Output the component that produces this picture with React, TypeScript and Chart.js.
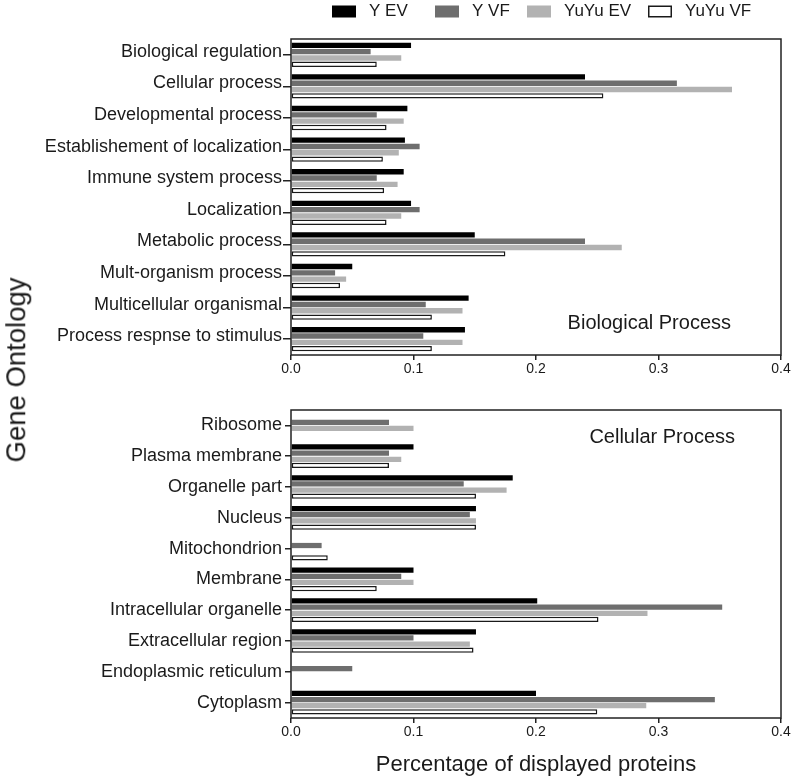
import React, { useEffect, useRef } from "react";
import { Chart, registerables } from "chart.js";

Chart.register(...registerables);

const FONT = '"Liberation Sans", Arial, Helvetica, sans-serif';

// ---- Data ----
const seriesNames = ["Y EV", "Y VF", "YuYu EV", "YuYu VF"];
const xTickValues = [0, 0.1, 0.2, 0.3, 0.4];

const bpCategories = [
  "Biological regulation",
  "Cellular process",
  "Developmental process",
  "Establishement of localization",
  "Immune system process",
  "Localization",
  "Metabolic process",
  "Mult-organism process",
  "Multicellular organismal",
  "Process respnse to stimulus",
];
const bpYEV = [0.098, 0.24, 0.095, 0.093, 0.092, 0.098, 0.15, 0.05, 0.145, 0.142];
const bpYVF = [0.065, 0.315, 0.07, 0.105, 0.07, 0.105, 0.24, 0.036, 0.11, 0.108];
const bpYuYuEV = [0.09, 0.36, 0.092, 0.088, 0.087, 0.09, 0.27, 0.045, 0.14, 0.14];
const bpYuYuVF = [0.07, 0.255, 0.078, 0.075, 0.076, 0.078, 0.175, 0.04, 0.115, 0.115];

const ccCategories = [
  "Ribosome",
  "Plasma membrane",
  "Organelle part",
  "Nucleus",
  "Mitochondrion",
  "Membrane",
  "Intracellular organelle",
  "Extracellular region",
  "Endoplasmic reticulum",
  "Cytoplasm",
];
const ccYEV = [null, 0.1, 0.181, 0.151, null, 0.1, 0.201, 0.151, null, 0.2];
const ccYVF = [0.08, 0.08, 0.141, 0.146, 0.025, 0.09, 0.352, 0.1, 0.05, 0.346];
const ccYuYuEV = [0.1, 0.09, 0.176, 0.151, null, 0.1, 0.291, 0.146, null, 0.29];
const ccYuYuVF = [null, 0.08, 0.151, 0.151, 0.03, 0.07, 0.251, 0.149, null, 0.25];

// ---- Styles ----
const seriesFill = ["#000000", "#6e6e6e", "#b2b2b2", "#ffffff"];
const seriesBorder = ["#000000", "#646464", "#a8a8a8", "#1a1a1a"];
const seriesBorderWidth = [0, 0, 0, 1.5];
const legendItemX = [332, 435, 527, 648];

const framePlugin = {
  id: "framePanel",
  afterDraw(chart: any, _args: any, opts: any) {
    const { ctx, chartArea } = chart;
    ctx.save();
    ctx.strokeStyle = "#222";
    ctx.lineWidth = 1.5;
    ctx.strokeRect(chartArea.left, chartArea.top, chartArea.right - chartArea.left, chartArea.bottom - chartArea.top);
    if (opts && opts.text) {
      ctx.fillStyle = "#1a1a1a";
      ctx.font = `20px ${FONT}`;
      ctx.textAlign = "right";
      ctx.textBaseline = "middle";
      const y = opts.fromTop ? chartArea.top + opts.dy : chartArea.bottom - opts.dy;
      ctx.fillText(opts.text, chartArea.right - opts.dxRight, y);
    }
    if (opts && opts.legend) {
      const cy = 11.5;
      ctx.font = `17px ${FONT}`;
      ctx.textAlign = "left";
      ctx.textBaseline = "middle";
      chart.data.datasets.forEach((ds: any, i: number) => {
        const x = legendItemX[i];
        ctx.fillStyle = seriesFill[i];
        ctx.fillRect(x, cy - 6, 24, 12);
        if (i === 3) {
          ctx.strokeStyle = "#1a1a1a";
          ctx.lineWidth = 1.5;
          ctx.strokeRect(x + 0.75, cy - 5.25, 22.5, 10.5);
        }
        ctx.fillStyle = "#1a1a1a";
        ctx.fillText(ds.label, x + 37, cy);
      });
    }
    ctx.restore();
  },
};

function makeConfig(p: {
  categories: string[];
  series: (number | null)[][];
  padTop: number;
  xAxisHeight: number;
  showXTitle: boolean;
  yLabelOffset: number;
  yTickLength: number;
  yTickPadding: number;
  panel: any;
}) {
  return {
    type: "bar",
    data: {
      labels: p.categories,
      datasets: p.series.map((d, i) => ({
        label: seriesNames[i],
        data: d,
        backgroundColor: seriesFill[i],
        borderColor: seriesBorder[i],
        borderWidth: seriesBorderWidth[i],
        borderSkipped: false,
        categoryPercentage: 0.8,
        barPercentage: 0.85,
      })),
    },
    options: {
      indexAxis: "y",
      responsive: false,
      maintainAspectRatio: false,
      animation: false,
      layout: { padding: { top: p.padTop, right: 19, left: 0, bottom: 0 } },
      plugins: {
        legend: { display: false },
        tooltip: { enabled: false },
        framePanel: p.panel,
      },
      scales: {
        x: {
          type: "linear",
          position: "bottom",
          min: 0,
          max: 0.4,
          afterBuildTicks: (s: any) => {
            s.ticks = xTickValues.map((v) => ({ value: v }));
          },
          ticks: {
            font: { family: FONT, size: 14 },
            color: "#1a1a1a",
            padding: 1,
            maxRotation: 0,
            autoSkip: false,
            callback: (v: any) => Number(v).toFixed(1),
          },
          grid: { display: true, drawOnChartArea: false, drawTicks: true, tickLength: 5, color: "#222", lineWidth: 1.5 },
          border: { display: false },
          title: {
            display: p.showXTitle,
            text: "Percentage of displayed proteins",
            font: { family: FONT, size: 22 },
            color: "#1a1a1a",
            padding: { top: 0, bottom: 1 },
          },
          afterFit: (s: any) => {
            s.height = p.xAxisHeight;
          },
        },
        y: {
          type: "category",
          ticks: {
            font: { family: FONT, size: 18 },
            color: "#1a1a1a",
            padding: p.yTickPadding,
            labelOffset: p.yLabelOffset,
            autoSkip: false,
          },
          grid: {
            display: true,
            offset: false,
            drawOnChartArea: false,
            drawTicks: true,
            tickLength: p.yTickLength,
            color: "#222",
            lineWidth: 1.5,
          },
          border: { display: false },
          afterFit: (s: any) => {
            s.width = 291;
          },
        },
      },
    },
    plugins: [framePlugin],
  } as any;
}

function BarPanel(props: { cfg: any; top: number; height: number }) {
  const ref = useRef<HTMLCanvasElement | null>(null);
  useEffect(() => {
    if (!ref.current) return;
    const chart = new Chart(ref.current, props.cfg);
    return () => chart.destroy();
  }, []);
  return (
    <canvas
      ref={ref}
      width={800}
      height={props.height}
      style={{ position: "absolute", left: 0, top: props.top, width: 800, height: props.height, display: "block" }}
    />
  );
}

export default function App() {
  const topCfg = makeConfig({
    categories: bpCategories,
    series: [bpYEV, bpYVF, bpYuYuEV, bpYuYuVF],
    padTop: 39,
    xAxisHeight: 25,
    showXTitle: false,
    yLabelOffset: -3,
    yTickLength: 8,
    yTickPadding: 1,
    panel: { text: "Biological Process", dxRight: 50, dy: 32, fromTop: false, legend: true },
  });
  const bottomCfg = makeConfig({
    categories: ccCategories,
    series: [ccYEV, ccYVF, ccYuYuEV, ccYuYuVF],
    padTop: 30,
    xAxisHeight: 61,
    showXTitle: true,
    yLabelOffset: 0,
    yTickLength: 6,
    yTickPadding: 3,
    panel: { text: "Cellular Process", dxRight: 46, dy: 27, fromTop: true, legend: false },
  });
  return (
    <div style={{ position: "absolute", left: 0, top: 0, width: 800, height: 779, background: "#fff", overflow: "hidden" }}>
      <BarPanel cfg={topCfg} top={0} height={380} />
      <BarPanel cfg={bottomCfg} top={380} height={399} />
      <div
        style={{
          position: "absolute",
          left: 16,
          top: 370,
          transform: "translate(-50%, -50%) rotate(-90deg)",
          whiteSpace: "nowrap",
          font: `27.5px ${FONT}`,
          color: "#1a1a1a",
          lineHeight: 1,
        }}
      >
        Gene Ontology
      </div>
    </div>
  );
}
